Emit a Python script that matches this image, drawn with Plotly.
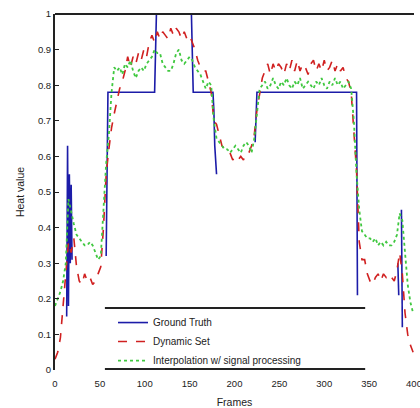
import plotly.graph_objects as go

# ---------------- data ----------------
x_ticks = [0, 50, 100, 150, 200, 250, 300, 350, 400]
x_tick_labels = ["0", "50", "100", "150", "200", "250", "300", "350", "400"]
y_ticks = [0, 0.1, 0.2, 0.3, 0.4, 0.5, 0.6, 0.7, 0.8, 0.9, 1.0]
y_tick_labels = ["0", "0.1", "0.2", "0.3", "0.4", "0.5", "0.6", "0.7", "0.8", "0.9", "1"]

gt_x = [13, 14, 15, 16, 17, 18, 19, 20,
        57, 58, 59, 111, 112, 113, 152, 153, 154, 176, 177, 178, 179, 180, 181,
        223, 224, 225, 336, 337, 338,
        382, 383, 384, 386, 387, 388]
gt_y = [0.15, 0.63, 0.18, 0.55, 0.30, 0.52, 0.31, None,
        0.32, 0.56, 0.78, 0.78, 0.91, 1.0, 1.0, 0.89, 0.78, 0.78, 0.73, 0.63, 0.58, 0.55, None,
        0.64, 0.70, 0.78, 0.78, 0.21, None,
        0.30, 0.21, None, 0.45, 0.12, None]

est_x = [0, 3, 6, 9, 12, 15, 18, 21, 24, 27, 30, 33, 36, 39, 42, 45, 48, 51, 54, 57,
         60, 63, 66, 69, 72, 75, 78, 81, 84, 87, 90, 93, 96, 99, 102, 105, 108, 111, 114, 117,
         120, 123, 126, 129, 132, 135, 138, 141, 144, 147, 150, 153, 156, 159, 162, 165, 168, 171, 174, 177,
         180, 183, 186, 189, 192, 195, 198, 201, 204, 207, 210, 213, 216, 219, 222, 225, 228, 231, 234, 237,
         240, 243, 246, 249, 252, 255, 258, 261, 264, 267, 270, 273, 276, 279, 282, 285, 288, 291, 294, 297,
         300, 303, 306, 309, 312, 315, 318, 321, 324, 327, 330, 333, 336, 339, 342, 345, 348, 351, 354, 357,
         360, 363, 366, 369, 372, 375, 378, 381, 384, 387, 390, 393, 396, 399]

dyn_y = [0.03, 0.05, 0.09, 0.18, 0.28, 0.36, 0.33, 0.37, 0.29, 0.25, 0.24, 0.27, 0.25, 0.26, 0.24, 0.25, 0.27, 0.29, 0.40, 0.55,
         0.62, 0.68, 0.72, 0.76, 0.79, 0.81, 0.84, 0.88, 0.85, 0.88, 0.86, 0.89, 0.87, 0.90, 0.88, 0.92, 0.94, 0.92, 0.95, 0.93,
         0.95, 0.94, 0.93, 0.96, 0.94, 0.96, 0.95, 0.93, 0.95, 0.93, 0.94, 0.92, 0.90, 0.87, 0.85, 0.84, 0.84, 0.81, 0.78, 0.70,
         0.69, 0.66, 0.63, 0.62, 0.61, 0.61, 0.59, 0.60, 0.59, 0.60, 0.59, 0.61, 0.61, 0.63, 0.66, 0.73, 0.78, 0.82, 0.84, 0.86,
         0.83, 0.86, 0.84, 0.86, 0.85, 0.83, 0.86, 0.84, 0.87, 0.84, 0.87, 0.84, 0.86, 0.85, 0.83, 0.86, 0.87, 0.84, 0.86, 0.84,
         0.87, 0.84, 0.85, 0.87, 0.84, 0.86, 0.84, 0.85, 0.82, 0.81, 0.78, 0.68, 0.56, 0.36, 0.31, 0.31, 0.27, 0.25, 0.24, 0.26,
         0.27, 0.25, 0.27, 0.26, 0.27, 0.26, 0.25, 0.28, 0.33, 0.27, 0.16, 0.10, 0.07, 0.05]

interp_y = [0.18, 0.20, 0.22, 0.25, 0.30, 0.48, 0.44, 0.41, 0.38, 0.37, 0.36, 0.35, 0.35, 0.36, 0.35, 0.33, 0.31, 0.32, 0.45, 0.58,
            0.66, 0.78, 0.85, 0.84, 0.85, 0.83, 0.86, 0.85, 0.87, 0.84, 0.82, 0.84, 0.85, 0.84, 0.86, 0.87, 0.88, 0.90, 0.89, 0.89,
            0.86, 0.85, 0.84, 0.84, 0.86, 0.89, 0.90, 0.87, 0.86, 0.87, 0.88, 0.87, 0.85, 0.84, 0.83, 0.81, 0.79, 0.81, 0.80, 0.70,
            0.65, 0.64, 0.63, 0.62, 0.62, 0.61, 0.62, 0.63, 0.62, 0.61, 0.63, 0.64, 0.63, 0.61, 0.65, 0.72, 0.79, 0.80, 0.81, 0.79,
            0.80, 0.82, 0.80, 0.79, 0.81, 0.80, 0.82, 0.80, 0.79, 0.81, 0.80, 0.82, 0.79, 0.80, 0.81, 0.80, 0.79, 0.81, 0.80, 0.82,
            0.80, 0.79, 0.81, 0.80, 0.82, 0.80, 0.81, 0.79, 0.80, 0.81, 0.79, 0.70, 0.55, 0.45, 0.39, 0.38, 0.37, 0.37, 0.36, 0.37,
            0.35, 0.36, 0.35, 0.36, 0.35, 0.35, 0.36, 0.38, 0.44, 0.42, 0.33, 0.24, 0.19, 0.16]

names = ["Ground Truth", "Dynamic Set", "Interpolation w/ signal processing"]

# ---------------- figure ----------------
FONT = "Liberation Sans, Arial, sans-serif"
fig = go.Figure()
fig.add_trace(go.Scatter(x=gt_x, y=gt_y, mode="lines", name=names[0],
                         line=dict(color="#1c1ca8", width=1.6), connectgaps=False))
fig.add_trace(go.Scatter(x=est_x, y=dyn_y, mode="lines", name=names[1],
                         line=dict(color="#d02020", width=1.6, dash="dash")))
fig.add_trace(go.Scatter(x=est_x, y=interp_y, mode="lines", name=names[2],
                         line=dict(color="#40c840", width=1.8, dash="dot")))

box_x0, box_x1 = 0.139, 0.864
box_top, box_bot = 0.174, 0.003
leg_x = 0.1616

fig.update_layout(
    width=420, height=408,
    margin=dict(l=55, r=6, t=14, b=38),
    paper_bgcolor="white", plot_bgcolor="white",
    font=dict(family=FONT, size=9.5, color="#222"),
    showlegend=True,
    legend=dict(x=leg_x, y=box_top, xanchor="left", yanchor="top",
                bgcolor="rgba(255,255,255,0)", borderwidth=0,
                font=dict(size=10, family=FONT, color="#222"),
                tracegroupgap=0, itemwidth=30),
    xaxis=dict(range=[0, 400], tickvals=x_ticks, ticktext=x_tick_labels,
               showgrid=False, zeroline=False, showline=False, ticks="",
               automargin=False, ticklabeloverflow="allow", ticklabelstandoff=6,
               title=dict(text="Frames", font=dict(size=10.5), standoff=14)),
    yaxis=dict(range=[0, 1], tickvals=y_ticks, ticktext=y_tick_labels,
               showgrid=False, zeroline=False, showline=True, linecolor="#222", linewidth=2,
               ticks="inside", ticklen=4, tickcolor="#222",
               automargin=False, ticklabeloverflow="allow",
               title=dict(text="Heat value", font=dict(size=10.5), standoff=11)),
    shapes=[
        dict(type="line", xref="paper", yref="paper", x0=0, x1=1, y0=1, y1=1,
             line=dict(color="#222", width=2), layer="above"),
        dict(type="line", xref="paper", yref="paper", x0=box_x0, x1=box_x1, y0=box_top, y1=box_top,
             line=dict(color="#222", width=2), layer="above"),
        dict(type="line", xref="paper", yref="paper", x0=box_x0, x1=box_x1, y0=box_bot, y1=box_bot,
             line=dict(color="#222", width=2), layer="above"),
    ],
)

fig.write_html("out.html", config={"displayModeBar": False},
               post_script="document.body.style.margin='0';document.body.style.overflow='hidden';")
